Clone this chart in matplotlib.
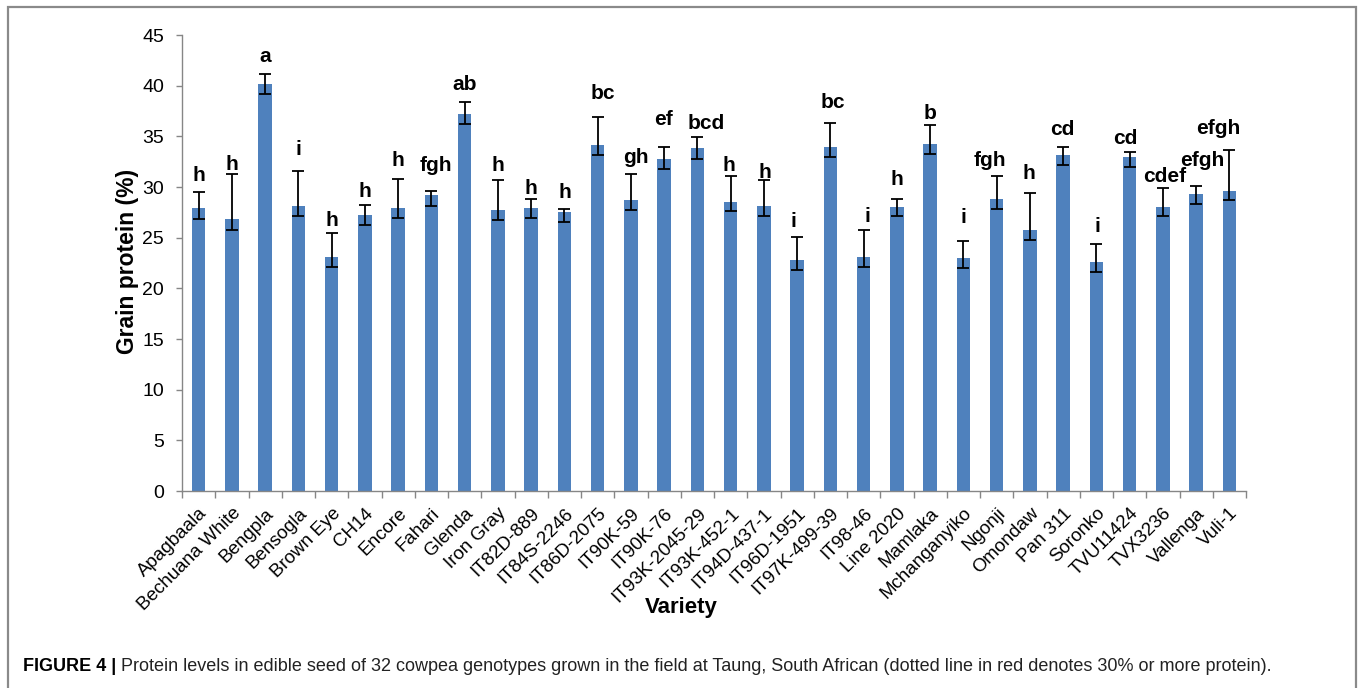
import matplotlib.pyplot as plt
import numpy as np
from matplotlib.patches import Rectangle

plt.rcParams['font.family'] = ['Liberation Sans', 'DejaVu Sans']

# grain protein of 32 cowpea varieties, Taung field trial
varieties = ['Apagbaala', 'Bechuana White', 'Bengpla', 'Bensogla', 'Brown Eye', 'CH14',
             'Encore', 'Fahari', 'Glenda', 'Iron Gray', 'IT82D-889', 'IT84S-2246',
             'IT86D-2075', 'IT90K-59', 'IT90K-76', 'IT93K-2045-29', 'IT93K-452-1',
             'IT94D-437-1', 'IT96D-1951', 'IT97K-499-39', 'IT98-46', 'Line 2020',
             'Mamlaka', 'Mchanganyiko', 'Ngonji', 'Omondaw', 'Pan 311', 'Soronko',
             'TVU11424', 'TVX3236', 'Vallenga', 'Vuli-1']
protein = [27.88, 26.82, 40.15, 28.14, 23.10, 27.20, 27.88, 29.19, 37.19, 27.70, 27.88,
           27.51, 34.10, 28.73, 32.78, 33.80, 28.53, 28.17, 22.77, 33.93, 23.07, 28.07,
           34.29, 23.00, 28.86, 25.80, 33.14, 22.62, 32.94, 28.06, 29.29, 29.65]
err_low = [1.06, 1.02, 1.02, 1.04, 1.02, 0.94, 0.93, 1.02, 0.96, 1.00, 0.96,
           0.98, 0.96, 0.99, 1.02, 1.02, 0.92, 0.99, 0.92, 0.99, 0.96, 0.97,
           0.99, 0.95, 0.99, 1.05, 1.00, 0.96, 0.97, 0.96, 0.93, 0.95]
err_high = [1.64, 4.44, 1.05, 3.46, 2.40, 1.07, 2.89, 0.46, 1.21, 3.04, 0.95,
            0.33, 2.82, 2.53, 1.12, 1.10, 2.57, 2.50, 2.30, 2.37, 2.70, 0.79,
            1.81, 1.65, 2.22, 3.62, 0.83, 1.73, 0.49, 1.82, 0.83, 4.05]
letters = ['h', 'h', 'a', 'i', 'h', 'h', 'h', 'fgh', 'ab', 'h', 'h', 'h',
           'bc', 'gh', 'ef', 'bcd', 'h', 'h', 'i', 'bc', 'i', 'h',
           'b', 'i', 'fgh', 'h', 'cd', 'i', 'cd', 'cdef', 'efgh', 'efgh']

# letter placement above the error caps (pixels)
label_rise = [16, 10, 17, 21, 12, 13, 19, 25, 17, 14, 10, 16, 23, 17, 28, 14,
              10, 8, 15, 21, 13, 19, 12, 24, 16, 19, 17, 18, 14, 12, 25, 21]
label_shift = [0, 0, 0, 0, 0, 0, 0, 5, 0, 0, 0, 0, 5, 5, -1, 9,
               -2, 1, -4, 2, 4, 0, 0, 0, -7, -1, -1, 1, -4, 2, 6, -11]

W, H = 1360, 688
fig = plt.figure(figsize=(W / 100, H / 100), dpi=100)
ax = fig.add_axes([182 / W, 1 - 491 / H, (1246 - 182) / W, (491 - 35) / H])

x = np.arange(len(varieties))
ax.bar(x, protein, width=0.4, color='#4f81bd', zorder=2)
ax.errorbar(x, np.array(protein), yerr=[err_low, err_high], fmt='none',
            ecolor='black', elinewidth=1.3, capsize=4, capthick=1.3, zorder=3)

for i, lab in enumerate(letters):
    ax.annotate(lab, xy=(x[i], protein[i] + err_high[i]),
                xytext=(label_shift[i] * 0.72, label_rise[i] * 0.72),
                textcoords='offset points', ha='center', va='center',
                fontsize=15, fontweight='bold', color='black', zorder=4)

ax.set_xlim(-0.5, len(varieties) - 0.5)
ax.set_ylim(0, 45)
ax.set_yticks(np.arange(0, 46, 5))
ax.set_xticks(x)
ax.set_xticklabels(varieties, rotation=45, ha='right', rotation_mode='anchor',
                   fontsize=13.5)
ax.set_xticks(np.arange(-0.5, len(varieties)), minor=True)
ax.tick_params(axis='x', which='major', length=0, pad=10)
ax.tick_params(axis='x', which='minor', length=5, width=1, color='#868686')
ax.tick_params(axis='y', length=4, width=1, color='#868686', pad=9, labelsize=14)

for side in ['top', 'right']:
    ax.spines[side].set_visible(False)
for side in ['left', 'bottom']:
    ax.spines[side].set_color('#868686')
    ax.spines[side].set_linewidth(1)

fig.text(134 / W, 1 - 261.5 / H, 'Grain protein (%)', rotation=90,
         rotation_mode='anchor', ha='center', va='baseline',
         fontsize=16.5, fontweight='bold')
fig.text(681 / W, 1 - 613 / H, 'Variety', ha='center', va='baseline',
         fontsize=16, fontweight='bold')

# caption under the chart
renderer = fig.canvas.get_renderer()
t1 = fig.text(23 / W, 1 - 671 / H, 'FIGURE 4 |', fontsize=13, fontweight='bold',
              va='baseline', ha='left')
bb = t1.get_window_extent(renderer)
fig.text((bb.x1 + 5) / W, 1 - 671 / H,
         'Protein levels in edible seed of 32 cowpea genotypes grown in the field at '
         'Taung, South African (dotted line in red denotes 30% or more protein).',
         fontsize=13, va='baseline', ha='left', color='#222222')

fig.patches.append(Rectangle((7.5 / W, -0.05), (1355.5 - 7.5) / W, 1.05 - 7.5 / H,
                             transform=fig.transFigure, fill=False,
                             edgecolor='#8a8a8a', linewidth=1.6))

fig.savefig('out.png', dpi=100)
